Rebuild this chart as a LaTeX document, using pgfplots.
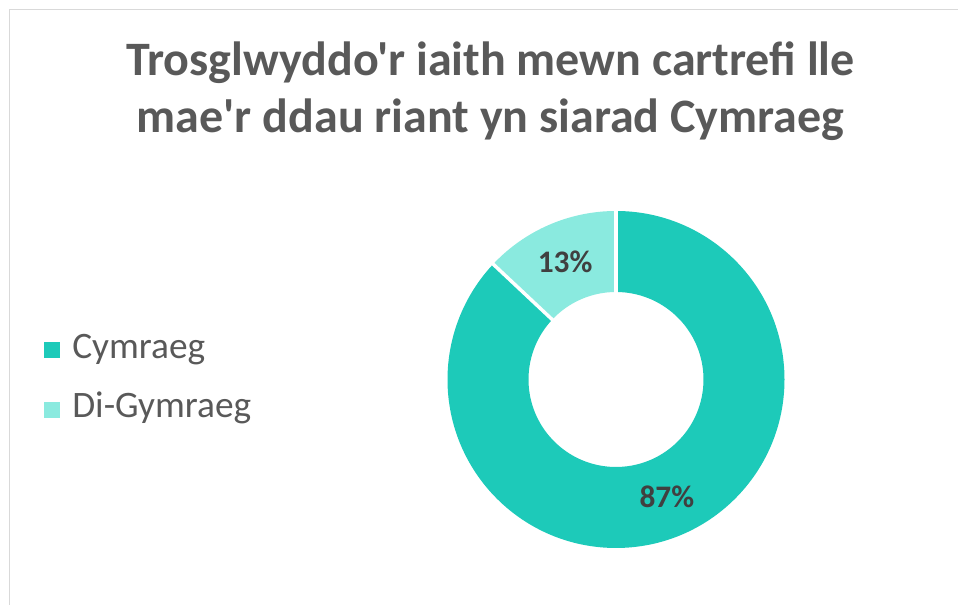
\documentclass[border=0pt]{standalone}
\usepackage{pgfplots}
\pgfplotsset{compat=1.18}
\usepackage{pgfplotstable}
\usepackage{fontspec}
\setmainfont{Carlito}[Ligatures=TeXOff]
\definecolor{cym}{HTML}{1DCAB9}
\definecolor{dicym}{HTML}{8AEADF}
\definecolor{titlegray}{HTML}{595959}
\definecolor{labelgray}{HTML}{404040}
\definecolor{bordergray}{HTML}{D9D9D9}

\pgfplotstableread{
label value
Cymraeg 87
Di-Gymraeg 13
}\donutdata
\pgfplotstablegetelem{0}{value}\of\donutdata \let\valA\pgfplotsretval
\pgfplotstablegetelem{1}{value}\of\donutdata \let\valB\pgfplotsretval
\pgfmathsetmacro{\tot}{\valA+\valB}
\pgfmathsetmacro{\fA}{\valA/\tot}
\pgfmathsetmacro{\fB}{\valB/\tot}
\pgfmathsetmacro{\aA}{90-360*\fA}
\pgfmathsetmacro{\aB}{\aA-360*\fB}
\pgfmathsetmacro{\mA}{90-180*\fA}
\pgfmathsetmacro{\mB}{\aA-180*\fB}
\def\Ro{126.375pt}
\def\Ri{65.625pt}
\def\Rl{96pt}
\newcommand\donutwedge[3]{%
  \fill[#1] (axis cs:616,225.5) ++(#2:\Ro) arc[start angle=#2,end angle=#3,radius=\Ro]
    -- ([shift={(#3:\Ri)}]axis cs:616,225.5) arc[start angle=#3,end angle=#2,radius=\Ri] -- cycle;}

\begin{document}
\begin{tikzpicture}
\begin{axis}[x=0.75pt,y=0.75pt,xmin=0,xmax=958,ymin=0,ymax=605,hide axis,clip=false]
\coordinate (ll) at (axis cs:0,0);
\coordinate (ur) at (axis cs:958,605);
% frame
\draw[bordergray,line width=1.1pt] (axis cs:9.5,0) -- (axis cs:9.5,595.5) -- (axis cs:958,595.5);
% title
\node[anchor=base,inner sep=0pt,font=\bfseries\fontsize{36}{43}\selectfont,text=titlegray] at (axis cs:490.5,529) {Trosglwyddo'r iaith mewn cartrefi lle};
\node[anchor=base,inner sep=0pt,font=\bfseries\fontsize{36}{43}\selectfont,text=titlegray] at (axis cs:490.5,472) {mae'r ddau riant yn siarad Cymraeg};
% donut
\donutwedge{cym}{90}{\aA}
\donutwedge{dicym}{\aA}{\aB}
\draw[white,line width=2.6pt] (axis cs:616,225.5) -- ++(90:{\Ro+1pt});
\draw[white,line width=2.6pt] (axis cs:616,225.5) -- ++(\aA:{\Ro+1pt});
\node[font=\bfseries\fontsize{23.5}{27}\selectfont,text=labelgray] at ([shift={(\mA:\Rl)}]axis cs:616,225.5) {87\%};
\node[font=\bfseries\fontsize{23.5}{27}\selectfont,text=labelgray] at ([shift={(\mB:\Rl)}]axis cs:616,225.5) {13\%};
% legend
\fill[cym] (axis cs:44,263.3) rectangle (axis cs:60,247.3);
\fill[dicym] (axis cs:44,203) rectangle (axis cs:60,187);
\node[anchor=base west,inner sep=0pt,font=\fontsize{28}{33}\selectfont,text=titlegray] at (axis cs:72,246) {Cymraeg};
\node[anchor=base west,inner sep=0pt,font=\fontsize{28}{33}\selectfont,text=titlegray] at (axis cs:72,187) {Di-Gymraeg};
\end{axis}
\pgfresetboundingbox
\path[use as bounding box] (ll) rectangle (ur);
\end{tikzpicture}
\end{document}
